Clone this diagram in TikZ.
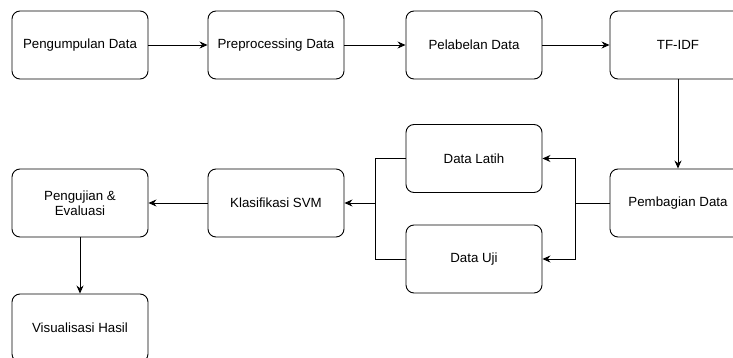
\documentclass[tikz,border=0pt]{standalone}
\usepackage{fontspec}
\setmainfont{Liberation Sans}
\usetikzlibrary{arrows.meta}
\begin{document}
\begin{tikzpicture}[x=1pt,y=-1pt,
  box/.style={draw=black,line width=0.9pt,rounded corners=8pt,minimum width=136pt,minimum height=68pt,align=center,font=\fontsize{13.3}{15.5}\selectfont,inner sep=2pt},
  conn/.style={draw=black,line width=0.9pt},
  arr/.style={conn,-{Stealth[length=8pt,width=7pt]}}]
\useasboundingbox (0,0) rectangle (733,358);
\clip (0,0) rectangle (733,358);
\node[box] (b1) at (80,45) {Pengumpulan Data};
\node[box] (b2) at (276,45) {Preprocessing Data};
\node[box] (b3) at (474,45) {Pelabelan Data};
\node[box] (b4) at (678,45) {TF-IDF};
\node[box] (pemb) at (678,203) {Pembagian Data};
\node[box] (latih) at (474,158.5) {Data Latih};
\node[box] (uji) at (474,259) {Data Uji};
\node[box] (klas) at (276,203) {Klasifikasi SVM};
\node[box] (peng) at (80,203) {Pengujian \&\\Evaluasi};
\node[box] (vis) at (80,328) {Visualisasi Hasil};
\coordinate (fork) at (575.7,203);
\coordinate (join) at (375,203);
\draw[arr] (b1) -- (b2);
\draw[arr] (b2) -- (b3);
\draw[arr] (b3) -- (b4);
\draw[arr] (b4) -- (pemb);
\draw[conn] (pemb.west) -- (fork);
\draw[arr] (fork) |- (latih.east);
\draw[arr] (fork) |- (uji.east);
\draw[conn] (latih.west) -| (join);
\draw[conn] (uji.west) -| (join);
\draw[arr] (join) -- (klas.east);
\draw[arr] (klas) -- (peng);
\draw[arr] (peng) -- (vis);
\end{tikzpicture}
\end{document}
